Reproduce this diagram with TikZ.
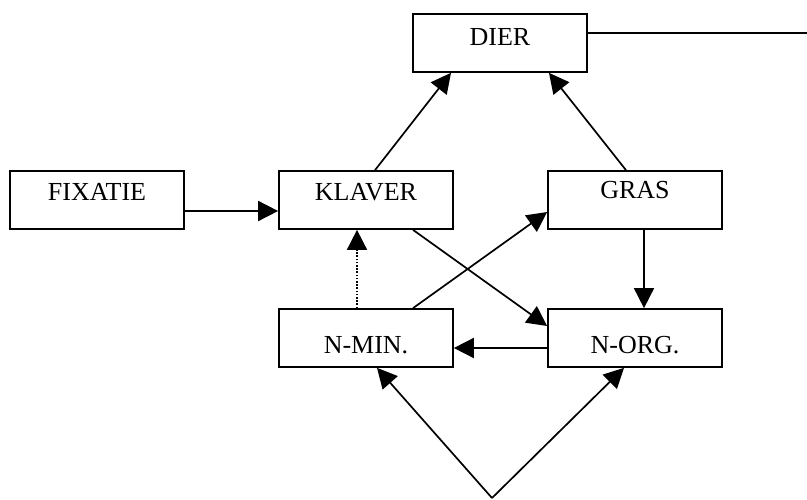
\documentclass[tikz,border=0pt]{standalone}
\usepackage{fontspec}
\setmainfont{Liberation Serif}
\usetikzlibrary{arrows.meta}
\begin{document}
\begin{tikzpicture}[x=1pt,y=-1pt,
        box/.style={draw,line width=1.7pt,inner sep=0pt,minimum width=174pt,
            text height=29.5pt,text depth=28.5pt,font=\fontsize{26}{30}\selectfont},
        lowbox/.style={box,text height=44.5pt,text depth=13.5pt},
        arr/.style={line width=1.7pt,-{Triangle[length=20pt,width=20pt]}}]
                \useasboundingbox (0,0) rectangle (807,499);
                \node[box,text height=31.5pt,text depth=26.5pt] (dier) at (500,43) {DIER};
                \node[box] (fixatie) at (97,200) {FIXATIE};
                \node[box] (klaver) at (366,200) {KLAVER};
                \node[box,text height=27.5pt,text depth=30.5pt] (gras) at (635,200) {GRAS};
                \node[lowbox] (nmin) at (366,338) {N-MIN.};
                \node[lowbox] (norg) at (635,338) {N-ORG.};
                \coordinate (rand) at (807,33);
                \coordinate (bron) at (492,498);
                \draw[line width=1.7pt] ([yshift=10pt]dier.east) -- (rand);
                \draw[arr] ([xshift=9pt]klaver.north) -- ([xshift=-49pt]dier.south);
                \draw[arr] ([xshift=-9pt]gras.north) -- ([xshift=49pt]dier.south);
                \draw[arr] ([yshift=-11pt]fixatie.east) -- ([yshift=-11pt]klaver.west);
                \draw[arr,dash pattern=on 1.6pt off 1.6pt] ([xshift=-9pt]nmin.north) -- ([xshift=-9pt]klaver.south);
                \draw[arr] ([xshift=47pt]nmin.north) -- ([yshift=-12pt]gras.west);
                \draw[arr] ([xshift=47pt]klaver.south) -- ([yshift=12pt]norg.west);
                \draw[arr] ([xshift=9pt]gras.south) -- ([xshift=9pt]norg.north);
                \draw[arr] ([yshift=-10pt]norg.west) -- ([yshift=-10pt]nmin.east);
                \draw[arr] (bron) -- ([xshift=11pt]nmin.south);
                \draw[arr] (bron) -- ([xshift=-11pt]norg.south);
            \end{tikzpicture}
\end{document}
